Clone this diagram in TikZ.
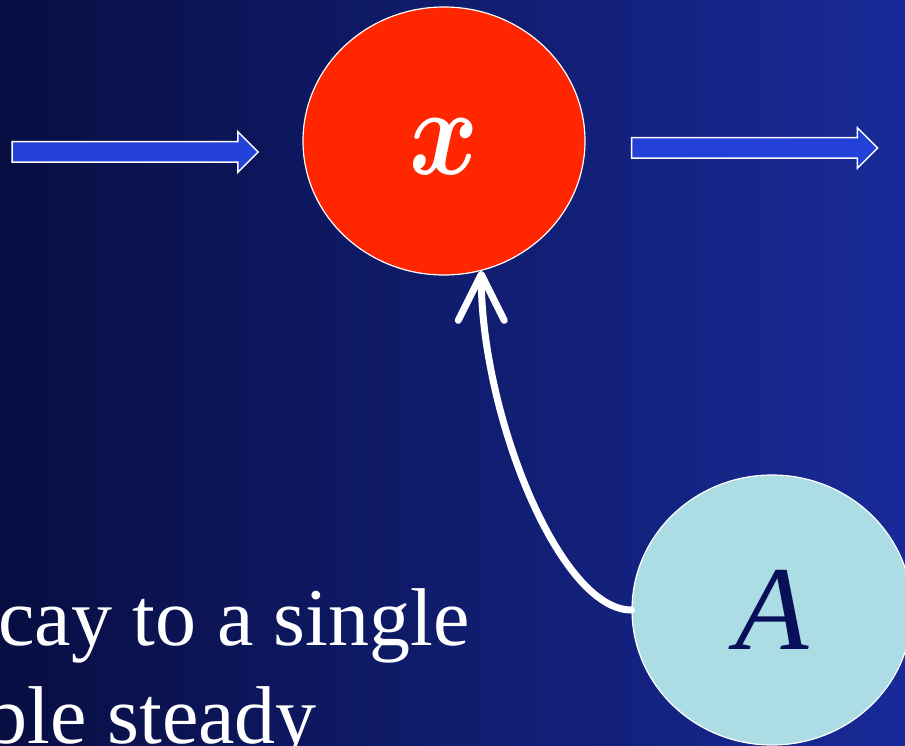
\documentclass[tikz,border=0pt]{standalone}
\usepackage{graphicx}
\usepackage{fontspec}
\setmainfont{Liberation Serif}
\usepackage{xcolor}
\usetikzlibrary{shapes.geometric,shapes.arrows,arrows.meta}
\definecolor{bgleft}{RGB}{8,14,66}
\definecolor{bgright}{RGB}{24,42,152}
\definecolor{flowblue}{RGB}{35,64,216}
\definecolor{statered}{RGB}{255,38,0}
\definecolor{ctrlblue}{RGB}{172,221,228}
\definecolor{ctrltext}{RGB}{10,15,90}

\begin{document}
\begin{tikzpicture}[x=1pt, y=-1pt,
		flow/.style={single arrow, draw=white, line width=1.5pt, fill=flowblue, inner sep=0pt, inner ysep=9.5pt, single arrow head extend=10pt, minimum height=246pt},
		blob/.style={ellipse, draw=white, line width=1.2pt, inner sep=0pt, font=\fontsize{120}{140}\selectfont\itshape},
		caption/.style={white, inner sep=0pt, anchor=base east, font=\fontsize{82}{98}\selectfont}]
		\shade[left color=bgleft, right color=bgright] (0,0) rectangle (905,746);
		\useasboundingbox (0,0) rectangle (905,746);
		\node[flow] (inflow) at (130,152) {};
		\node[flow] (outflow) at (749.5,148) {};
		\node[blob, fill=statered, text=white, minimum width=282pt, minimum height=268pt] (state) at (444,141) {\rule{0pt}{68pt}\scalebox{10.5}[12.5]{\normalsize\boldmath$x$}};
		\node[blob, fill=ctrlblue, text=ctrltext, minimum width=280pt, minimum height=270pt] (ctrl) at (772,610) {A};
		\draw[white, line width=7pt, line cap=round, -{Straight Barb[length=46pt, width=46pt, round]}] (ctrl.west) .. controls +(-72,0) and +(0,143) .. (state.-74);
		\node[caption] (line1) at (470,645) {cay to a single};
		\node[caption] (line2) at (317,743) {ble steady};
	\end{tikzpicture}
\end{document}
